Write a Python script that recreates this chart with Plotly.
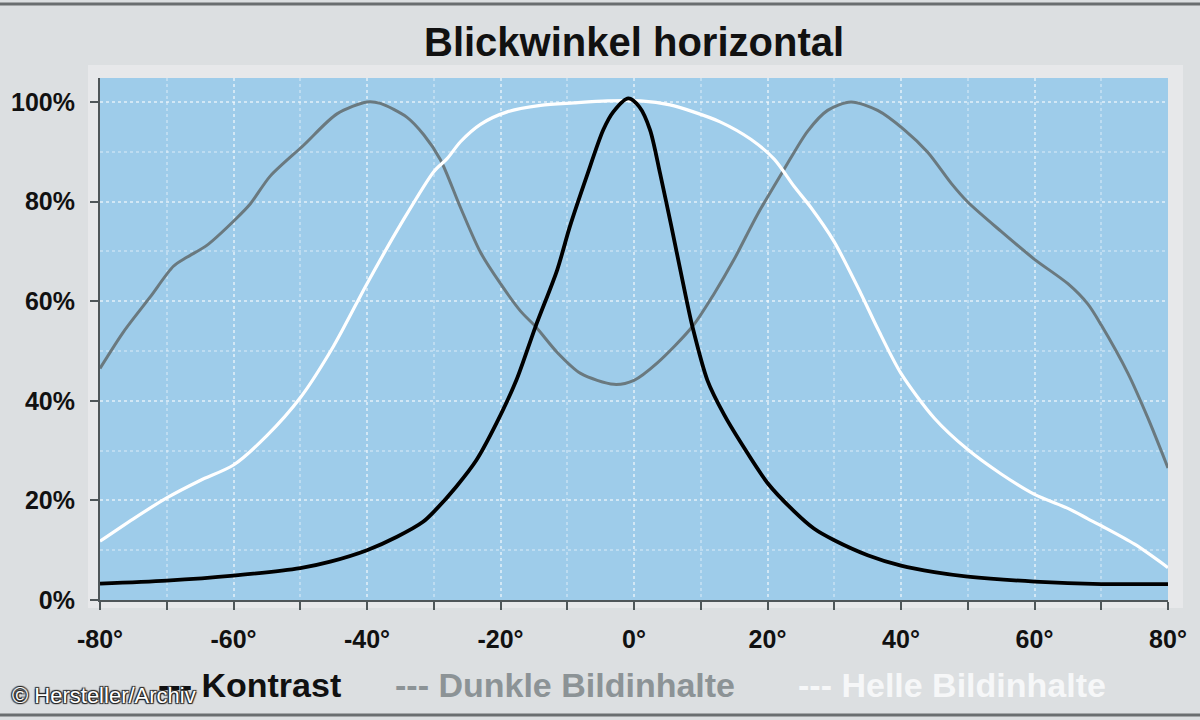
import plotly.graph_objects as go

# ---------------- data ----------------
kontrast_x = [-80, -70, -60, -50, -45.5, -40, -35.5, -31.6, -30, -26.6, -23.6, -20.6, -17.6, -14.75, -11.5, -9.6, -7.1, -4.6, -3.1, -0.85, 0.8, 2.4, 3.9, 5.6, 8, 8.75, 11, 13.5, 16, 20, 24, 27, 30, 35, 40, 45, 50, 60, 70, 80]
kontrast_y = [3.3, 3.9, 4.9, 6.4, 7.7, 10.0, 12.7, 15.7, 17.7, 22.8, 28.1, 35.5, 44.2, 54.9, 66.3, 75.0, 85.0, 94.4, 98.0, 100.7, 99.0, 94.4, 85.7, 75.0, 59.4, 54.9, 44.1, 37.2, 31.6, 23.5, 17.8, 14.3, 12.0, 9.0, 6.9, 5.6, 4.7, 3.7, 3.2, 3.2]

dunkel_x = [-80, -76.5, -72.5, -69, -67, -64, -59.5, -57.5, -54.5, -49.5, -44.5, -40, -38, -34, -31.5, -29, -26, -23, -20, -17, -14.75, -11.5, -8, -3, 0, 3.5, 8.75, 12, 15, 18.5, 22.5, 26, 29, 32.5, 36.5, 40.5, 44, 47.5, 50, 55, 60, 65, 68, 70, 74, 77, 80]
dunkel_y = [46.5, 53.8, 60.8, 67, 68.8, 71.2, 76.7, 79.5, 85.1, 91.3, 97.6, 100, 99.7, 96.9, 93.4, 88.4, 78.8, 69.8, 63.5, 58, 54.9, 49.7, 45.5, 43.3, 44.1, 47.6, 54.9, 61.5, 68.4, 77.4, 86.5, 94.1, 98.3, 100, 98.3, 94.4, 89.9, 83.7, 79.9, 74, 68.4, 63.5, 59.4, 55.2, 45.5, 36.5, 26.5]

hell_x = [-80, -75, -70, -65, -60, -55, -50, -45, -40, -35, -30, -28, -26, -23, -19, -14, -9, -4, 1, 5.4, 8.9, 12.9, 17.5, 21, 24, 26.5, 30, 34, 36.5, 40, 45, 50, 55, 60, 65, 68, 70, 75, 80]
hell_y = [11.8, 16.3, 20.5, 24, 27.1, 33, 40.6, 51, 63.5, 75.3, 86, 88.6, 92, 95.5, 98, 99.3, 99.8, 100.2, 100.2, 99.4, 98.0, 96.0, 92.5, 88.5, 83, 78.8, 71.9, 61.5, 54.5, 45.5, 36.5, 30.2, 25.3, 21.2, 18.4, 16.3, 14.9, 11.2, 6.5]

x_tickvals = [-80, -60, -40, -20, 0, 20, 40, 60, 80]
x_ticktext = ["-80°", "-60°", "-40°", "-20°", "0°", "20°", "40°", "60°", "80°"]
y_tickvals = [0, 20, 40, 60, 80, 100]
y_ticktext = ["0%", "20%", "40%", "60%", "80%", "100%"]

title_text = "Blickwinkel horizontal"
legend_labels = ["--- Kontrast", "--- Dunkle Bildinhalte", "--- Helle Bildinhalte"]
credit_text = "© Hersteller/Archiv"

# ---------------- styling ----------------
BG = "#DCDFE1"
PLOT_BG = "#9ECCEA"
C_K = "#000000"
C_D = "#6A797F"
C_H = "#FFFFFF"
FONT = "Liberation Sans, Arial, sans-serif"

W, H = 1200, 720
L, R, T, B = 100, 32, 78, 120
pw, ph = W - L - R, H - T - B


def px_x(p):
    return (p - L) / pw


def px_y(p):
    return (H - B - p) / ph


fig = go.Figure()
fig.add_trace(go.Scatter(x=dunkel_x, y=dunkel_y, mode="lines",
                         line=dict(color=C_D, width=3, shape="spline", smoothing=0.8),
                         name="Dunkle Bildinhalte", hoverinfo="skip"))
fig.add_trace(go.Scatter(x=hell_x, y=hell_y, mode="lines",
                         line=dict(color=C_H, width=3.2, shape="spline", smoothing=0.8),
                         name="Helle Bildinhalte", hoverinfo="skip"))
fig.add_trace(go.Scatter(x=kontrast_x, y=kontrast_y, mode="lines",
                         line=dict(color=C_K, width=3.8, shape="spline", smoothing=0.8),
                         name="Kontrast", hoverinfo="skip"))

grid_col = "rgba(255,255,255,0.32)"
axis_col = "#4F5659"
fig.update_xaxes(range=[-80, 80], tickvals=x_tickvals, ticktext=x_ticktext,
                 showline=True, linecolor=axis_col, linewidth=2,
                 ticks="outside", ticklen=8, tickwidth=2, tickcolor=axis_col,
                 showgrid=True, gridcolor=grid_col, griddash="dot", gridwidth=2,
                 minor=dict(dtick=10, tick0=0, ticks="outside", ticklen=8, tickwidth=2,
                            tickcolor=axis_col, showgrid=True, gridcolor=grid_col,
                            griddash="dot", gridwidth=2),
                 zeroline=False, ticklabelstandoff=8,
                 tickfont=dict(family=FONT, size=25, color="#111111", weight="bold"))
fig.update_yaxes(range=[0, 104.8], tickvals=y_tickvals, ticktext=y_ticktext,
                 showline=True, linecolor=axis_col, linewidth=2,
                 ticks="outside", ticklen=8, tickwidth=2, tickcolor=axis_col,
                 showgrid=True, gridcolor=grid_col, griddash="dot", gridwidth=2,
                 minor=dict(dtick=10, tick0=0, ticks="", showgrid=True, gridcolor=grid_col,
                            griddash="dot", gridwidth=2),
                 zeroline=False, ticklabelstandoff=10,
                 tickfont=dict(family=FONT, size=25, color="#111111", weight="bold"))

shapes = [
    # pale frame behind plot area
    dict(type="rect", xref="paper", yref="paper", layer="below",
         x0=px_x(88), x1=px_x(1183), y0=px_y(608), y1=px_y(65),
         fillcolor="#E7E8EA", line=dict(width=0)),
    # blue plotting area
    dict(type="rect", xref="paper", yref="paper", layer="below",
         x0=0, x1=1, y0=0, y1=1, fillcolor=PLOT_BG, line=dict(width=0)),
    # top and bottom border lines
    dict(type="line", xref="paper", yref="paper", x0=px_x(0), x1=px_x(1200),
         y0=px_y(4), y1=px_y(4), line=dict(color="#6A6E70", width=3)),
    dict(type="line", xref="paper", yref="paper", x0=px_x(0), x1=px_x(1200),
         y0=px_y(715), y1=px_y(715), line=dict(color="#6A6E70", width=3)),
]

annotations = [
    dict(text=title_text, xref="paper", yref="paper", x=px_x(634), y=px_y(42),
         xanchor="center", yanchor="middle", showarrow=False,
         font=dict(family=FONT, size=40, color="#111111", weight="bold")),
    dict(text=legend_labels[0], xref="paper", yref="paper", x=px_x(156), y=px_y(685),
         xanchor="left", yanchor="middle", showarrow=False,
         font=dict(family=FONT, size=34, color="#111111", weight="bold")),
    dict(text=legend_labels[1], xref="paper", yref="paper", x=px_x(393), y=px_y(685),
         xanchor="left", yanchor="middle", showarrow=False,
         font=dict(family=FONT, size=34, color="#8C9396", weight="bold")),
    dict(text=legend_labels[2], xref="paper", yref="paper", x=px_x(796), y=px_y(685),
         xanchor="left", yanchor="middle", showarrow=False,
         font=dict(family=FONT, size=34, color="#F6F7F8", weight="bold")),
    dict(text=credit_text, xref="paper", yref="paper", x=px_x(10), y=px_y(695),
         xanchor="left", yanchor="middle", showarrow=False,
         font=dict(family=FONT, size=22, color="#FFFFFF",
                   shadow="1px 1px 1px #222, -1px -1px 1px #222, 1px -1px 1px #222, -1px 1px 1px #222")),
]

fig.update_layout(width=W, height=H, paper_bgcolor=BG, plot_bgcolor=PLOT_BG,
                  margin=dict(l=L, r=R, t=T, b=B, autoexpand=False),
                  showlegend=False, shapes=shapes, annotations=annotations)

fig.write_html("out.html", config={"displayModeBar": False},
               post_script="document.body.style.margin='0';document.body.style.background='%s';" % BG)
